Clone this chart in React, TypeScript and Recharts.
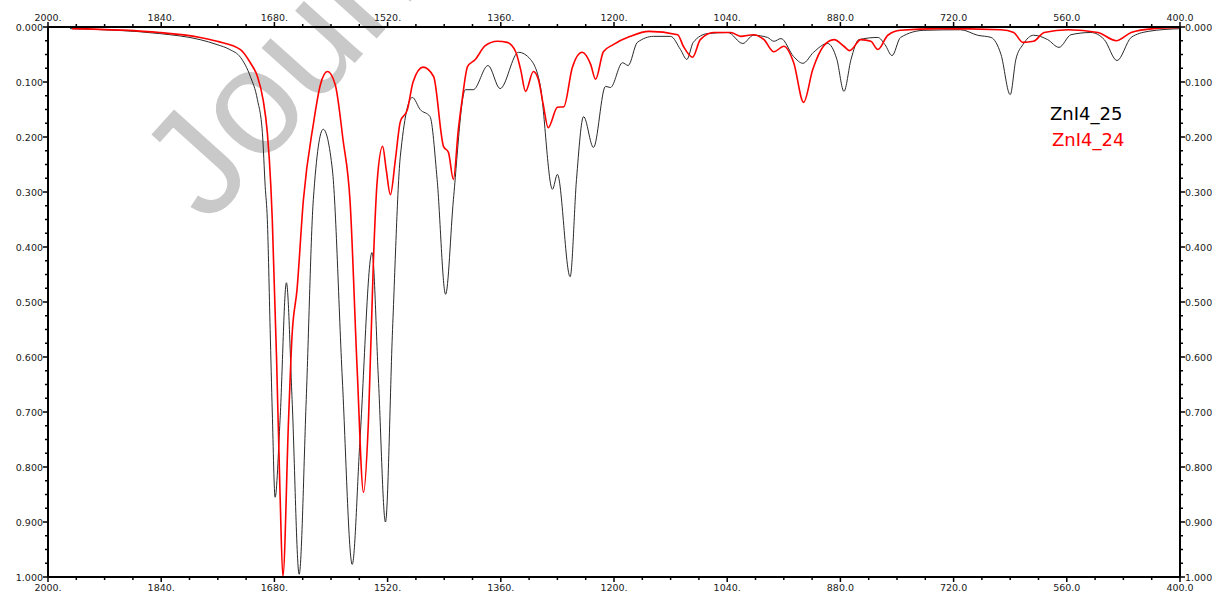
import { LineChart, Line, XAxis, YAxis } from "recharts";

// ZnI4_25 (black trace): wavenumber (cm-1) and absorbance
const zn25Wn = [
  1969, 1842, 1785, 1761, 1743, 1728, 1714, 1704, 1697, 1693, 1690, 1686, 1683, 1679, 1672, 1663,
  1655, 1645, 1635, 1625, 1611, 1598, 1584, 1570, 1559, 1542, 1533, 1523, 1513, 1502, 1485, 1474,
  1460, 1450, 1438, 1427, 1410, 1399, 1378, 1361, 1335, 1318, 1304, 1287, 1280, 1262, 1253, 1243,
  1229, 1212, 1205, 1188, 1180, 1167, 1144, 1120, 1106, 1097, 1088, 1068, 1039, 1018, 1003, 983, 974,
  964, 946, 933, 918, 898, 885, 875, 865, 854, 827, 817, 807, 795, 762, 710, 686, 667, 653, 640, 632,
  622, 607, 587, 571, 554, 526, 507, 489, 469, 445, 400,
];
const zn25Abs = [
  0.003, 0.012, 0.023, 0.032, 0.041, 0.055, 0.09, 0.132, 0.192, 0.29, 0.35, 0.55, 0.7, 0.855, 0.714, 0.465,
  0.677, 0.995, 0.677, 0.314, 0.186, 0.26, 0.64, 0.977, 0.75, 0.41, 0.64, 0.9, 0.55, 0.235, 0.128, 0.15,
  0.163, 0.277, 0.486, 0.314, 0.114, 0.114, 0.07, 0.112, 0.046, 0.059, 0.108, 0.295, 0.268, 0.454, 0.277, 0.163,
  0.219, 0.108, 0.11, 0.065, 0.07, 0.028, 0.017, 0.017, 0.041, 0.059, 0.028, 0.012, 0.01, 0.03, 0.015, 0.019, 0.026,
  0.021, 0.054, 0.066, 0.046, 0.03, 0.059, 0.117, 0.059, 0.023, 0.019, 0.032, 0.052, 0.019, 0.006, 0.005, 0.015, 0.019, 0.05, 0.123, 0.059,
  0.032, 0.015, 0.023, 0.037, 0.014, 0.01, 0.023, 0.061, 0.019, 0.008, 0.003,
];

// ZnI4_24 (red trace)
const zn24Wn = [
  1966, 1842, 1785, 1761, 1728, 1714, 1704, 1696, 1690, 1685, 1683, 1677, 1672, 1668, 1660, 1655,
  1648, 1639, 1625, 1615, 1605, 1594, 1583, 1573, 1563, 1554, 1547, 1540, 1535, 1527, 1522, 1516,
  1509, 1502, 1492, 1484, 1470, 1455, 1441, 1434, 1427, 1420, 1414, 1407, 1396, 1382, 1365, 1351,
  1339, 1332, 1325, 1314, 1307, 1300, 1293, 1280, 1271, 1259, 1245, 1233, 1226, 1215, 1201, 1177,
  1151, 1110, 1102, 1089, 1078, 1059, 1035, 1021, 1003, 988, 974, 960, 946, 932, 919, 904, 889, 875,
  867, 851, 837, 827, 813, 795, 742, 653, 635, 622, 607, 592, 558, 516, 490, 469, 437, 400,
];
const zn24Abs = [
  0.003, 0.01, 0.019, 0.026, 0.041, 0.065, 0.09, 0.132, 0.192, 0.29, 0.35, 0.6, 0.85, 0.999, 0.714, 0.56,
  0.477, 0.314, 0.177, 0.105, 0.081, 0.105, 0.205, 0.318, 0.623, 0.846, 0.714, 0.423, 0.285, 0.217, 0.259, 0.305,
  0.241, 0.172, 0.15, 0.1, 0.073, 0.09, 0.217, 0.228, 0.277, 0.186, 0.126, 0.072, 0.059, 0.034, 0.026, 0.028,
  0.045, 0.077, 0.117, 0.081, 0.095, 0.141, 0.183, 0.146, 0.145, 0.074, 0.046, 0.068, 0.095, 0.045, 0.032, 0.017,
  0.008, 0.014, 0.035, 0.055, 0.023, 0.01, 0.01, 0.017, 0.014, 0.023, 0.045, 0.035, 0.065, 0.137, 0.077, 0.035, 0.023, 0.035,
  0.043, 0.023, 0.026, 0.041, 0.015, 0.006, 0.003, 0.005, 0.01, 0.028, 0.026, 0.01, 0.005, 0.01, 0.025, 0.01, 0.003, 0.001,
];

// every 40 cm-1, labels every 160
const xTicks = Array.from({ length: 41 }, (_, i) => 2000 - i * 40);
// every 0.025, labels every 0.1
const yTicks = Array.from({ length: 41 }, (_, i) => i * 25);

const zn25 = zn25Wn.map((wn, i) => ({ wn, abs: zn25Abs[i] }));
const zn24 = zn24Wn.map((wn, i) => ({ wn, abs: zn24Abs[i] }));

const W = 1212;
const H = 594;
const font = "'DejaVu Sans', sans-serif";

const fmtX = (v: number) => (v >= 1000 ? `${v}.` : v.toFixed(1));

function XTick(props: any) {
  const { x, y, payload, side } = props;
  const v = payload.value;
  const major = (2000 - v) % 160 === 0;
  const dir = side === "top" ? -1 : 1;
  return (
    <g>
      <line x1={x} x2={x} y1={y} y2={y + dir * (major ? 5 : 3)} stroke="#000" strokeWidth={1.5} />
      {major && (
        <text
          x={x}
          y={y + dir * 10}
          textAnchor="middle"
          dominantBaseline="central"
          fontSize={9.5}
          fontFamily={font}
          fill="#1a1a1a"
        >
          {fmtX(v)}
        </text>
      )}
    </g>
  );
}

function YTick(props: any) {
  const { x, y, payload, side } = props;
  const v = Math.round(payload.value * 1000);
  const major = v % 100 === 0;
  const dir = side === "left" ? -1 : 1;
  return (
    <g>
      <line x1={x} x2={x + dir * (major ? 5 : 3)} y1={y} y2={y} stroke="#000" strokeWidth={1.5} />
      {major && (
        <text
          x={x + dir * 5}
          y={y}
          textAnchor={side === "left" ? "end" : "start"}
          dominantBaseline="central"
          fontSize={9.5}
          fontFamily={font}
          fill="#1a1a1a"
        >
          {(v / 1000).toFixed(3)}
        </text>
      )}
    </g>
  );
}

export default function App() {
  const axisLine = { stroke: "#000", strokeWidth: 2 };
  const yVals = yTicks.map((t) => t / 1000);
  return (
    <div style={{ position: "fixed", left: 0, top: 0, width: W, height: H, background: "#fff" }}>
      <svg width={W} height={H} style={{ position: "absolute", left: 0, top: 0 }}>
        <text
          x={208}
          y={226}
          transform="rotate(-48 208 226)"
          fontSize={150}
          fontFamily="'Liberation Sans', Arial, sans-serif"
          fill="#c9c9c9"
        >
          Journal
        </text>
      </svg>
      <div style={{ position: "absolute", left: 0, top: 0 }}>
        <LineChart width={W} height={H} margin={{ top: 0, right: 0, bottom: 0, left: 0 }}>
          <XAxis
            xAxisId="bottom"
            type="number"
            dataKey="wn"
            domain={[400, 2000]}
            reversed
            orientation="bottom"
            height={17}
            ticks={xTicks}
            interval={0}
            tickSize={0}
            tickMargin={0}
            tickLine={false}
            axisLine={axisLine}
            tick={(p: any) => <XTick {...p} side="bottom" />}
          />
          <XAxis
            xAxisId="top"
            type="number"
            dataKey="wn"
            domain={[400, 2000]}
            reversed
            orientation="top"
            height={27}
            ticks={xTicks}
            interval={0}
            tickSize={0}
            tickMargin={0}
            tickLine={false}
            axisLine={axisLine}
            tick={(p: any) => <XTick {...p} side="top" />}
          />
          <YAxis
            yAxisId="left"
            type="number"
            domain={[0, 1]}
            reversed
            orientation="left"
            width={48}
            ticks={yVals}
            interval={0}
            tickSize={0}
            tickMargin={0}
            tickLine={false}
            axisLine={axisLine}
            tick={(p: any) => <YTick {...p} side="left" />}
          />
          <YAxis
            yAxisId="right"
            type="number"
            domain={[0, 1]}
            reversed
            orientation="right"
            width={32}
            ticks={yVals}
            interval={0}
            tickSize={0}
            tickMargin={0}
            tickLine={false}
            axisLine={axisLine}
            tick={(p: any) => <YTick {...p} side="right" />}
          />
          {/* invisible copy so the top and right axes get a scale */}
          <Line
            xAxisId="top"
            yAxisId="right"
            data={zn25}
            dataKey="abs"
            type="monotoneX"
            stroke="none"
            strokeOpacity={0}
            dot={false}
            activeDot={false}
            isAnimationActive={false}
          />
          <Line
            xAxisId="bottom"
            yAxisId="left"
            data={zn25}
            dataKey="abs"
            type="monotoneX"
            stroke="#2a2a2a"
            strokeWidth={1}
            dot={false}
            isAnimationActive={false}
          />
          <Line
            xAxisId="bottom"
            yAxisId="left"
            data={zn24}
            dataKey="abs"
            type="monotoneX"
            stroke="#ff0000"
            strokeWidth={1.6}
            dot={false}
            isAnimationActive={false}
          />
        </LineChart>
      </div>
      <svg width={W} height={H} style={{ position: "absolute", left: 0, top: 0, pointerEvents: "none" }}>
        <text x={1050} y={120} fontSize={18} fontFamily={font} fill="#000">
          ZnI4_25
        </text>
        <text x={1052} y={146} fontSize={18} fontFamily={font} fill="#ff0000">
          ZnI4_24
        </text>
      </svg>
    </div>
  );
}
